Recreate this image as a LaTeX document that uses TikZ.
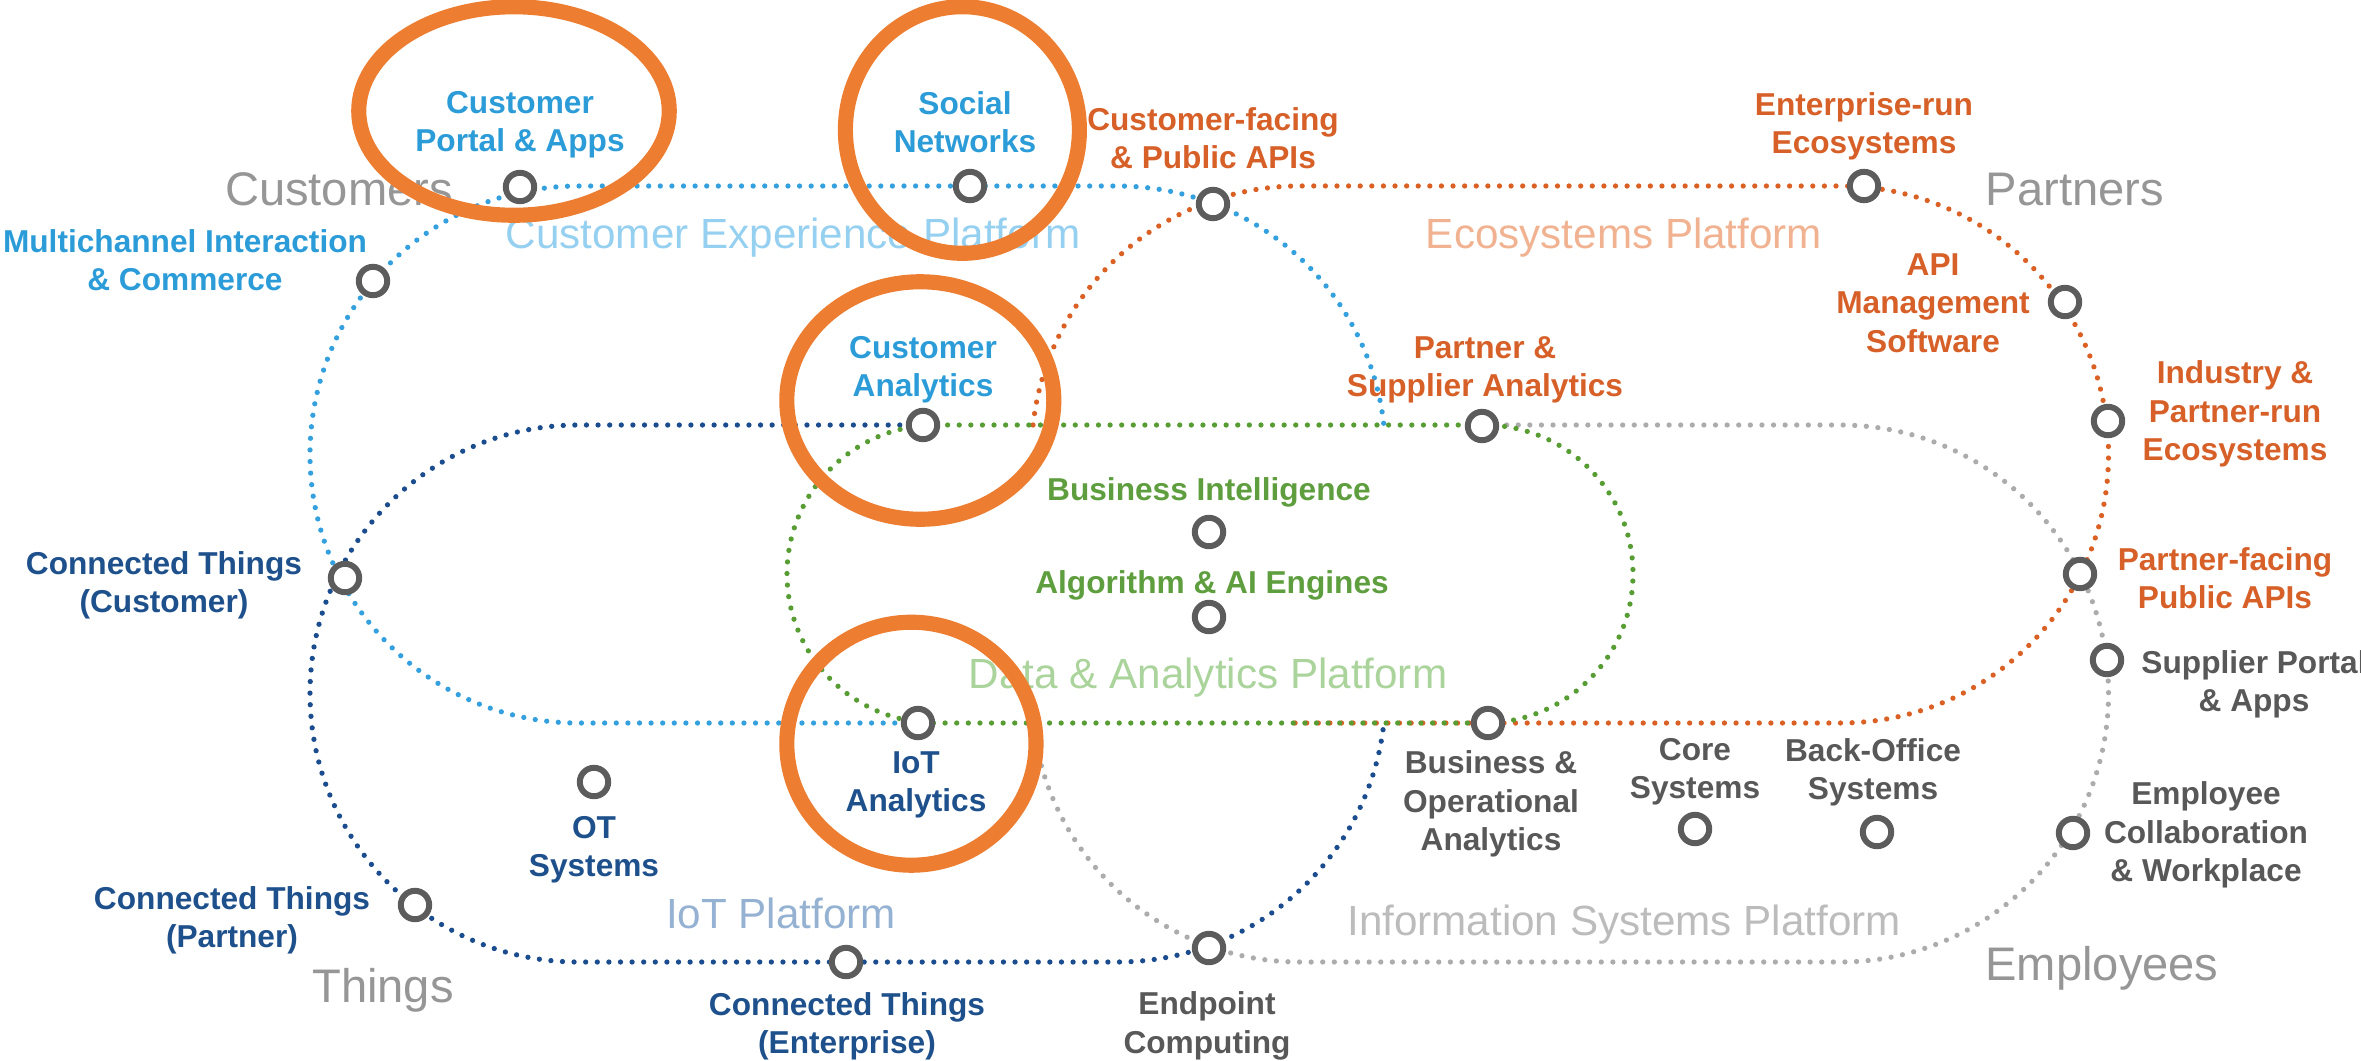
\documentclass[tikz,border=0pt]{standalone}
\usepackage{fontspec}
\setmainfont{Liberation Sans}

% platform colours: outline, item text, pale platform title
\definecolor{cxline}{RGB}{52,160,222}
\definecolor{cxtext}{RGB}{44,156,216}
\definecolor{cxpale}{RGB}{150,208,240}
\definecolor{ecoline}{RGB}{218,96,36}
\definecolor{ecotext}{RGB}{214,96,40}
\definecolor{ecopale}{RGB}{240,178,145}
\definecolor{dataline}{RGB}{88,156,52}
\definecolor{datatext}{RGB}{94,158,62}
\definecolor{datapale}{RGB}{170,212,155}
\definecolor{iotline}{RGB}{26,76,142}
\definecolor{iottext}{RGB}{30,80,140}
\definecolor{iotpale}{RGB}{150,178,210}
\definecolor{isline}{RGB}{172,172,172}
\definecolor{istext}{RGB}{88,88,88}
\definecolor{ispale}{RGB}{188,188,188}
\definecolor{zonegray}{RGB}{150,150,150}
\definecolor{hubgray}{RGB}{92,92,92}
\definecolor{focusorange}{RGB}{237,125,49}

\begin{document}
\begin{tikzpicture}[x=0.01cm,y=-0.01cm,
  dotline/.style={line width=1.5pt,line cap=round,dash pattern=on 0pt off 3.3pt},
  hub/.style={circle,draw=hubgray,fill=white,line width=1.7pt,minimum size=0.284cm,inner sep=0pt},
  lbl/.style={font=\fontsize{9}{10.9}\selectfont\bfseries,align=center,inner sep=0pt},
  plat/.style={font=\fontsize{12}{14}\selectfont,inner sep=0pt,anchor=base},
  zone/.style={font=\fontsize{13.4}{16}\selectfont,text=zonegray,inner sep=0pt,anchor=base},
  focus/.style={draw=focusorange,line width=4.3pt}]
\useasboundingbox (0,0) rectangle (2361,1060);

% ---------- stakeholder corners ----------
\node[zone] (customers) at (339,205) {Customers};
\node[zone] (partners) at (2075,205) {Partners};
\node[zone] (things) at (383,1002) {Things};
\node[zone] (employees) at (2102,980) {Employees};

% ---------- platform titles ----------
\node[plat,text=cxpale] (cxtitle) at (793,248) {Customer Experience Platform};
\node[plat,text=ecopale] (ecotitle) at (1624,248) {Ecosystems Platform};
\node[plat,text=datapale] (datatitle) at (1208,688) {Data \& Analytics Platform};
\node[plat,text=iotpale] (iottitle) at (781,928) {IoT Platform};
\node[plat,text=ispale] (istitle) at (1624,935) {Information Systems Platform};

% ---------- platform outlines (visible parts) ----------
% customer experience
\draw[dotline,cxline] (918,723) -- (578.5,723)
  arc[start angle=90,end angle=270,radius=268.5] -- (1117,186)
  arc[start angle=270,end angle=353.7,radius=268.5];
% IoT
\draw[dotline,iotline] (923,425) -- (578.5,425)
  arc[start angle=270,end angle=90,radius=268.5] -- (1117,962)
  arc[start angle=90,end angle=6.3,radius=268.5];
% ecosystems
\draw[dotline,ecoline] (1033,425)
  arc[start angle=186.3,end angle=270,radius=268.5] -- (1840,186)
  arc[start angle=-90,end angle=90,radius=268.5] -- (1285,723);
% information systems
\draw[dotline,isline] (1495,425) -- (1840,425)
  arc[start angle=-90,end angle=90,radius=268.5] -- (1300,962)
  arc[start angle=90,end angle=173.7,radius=268.5];
% data & analytics
\draw[dotline,dataline] (936,425) -- (1484,425)
  arc[start angle=-90,end angle=90,radius=149] -- (936,723)
  arc[start angle=90,end angle=270,radius=149];

% ---------- hubs ----------
\node[hub] (multi) at (373,281) {};
\node[hub] (cportal) at (520,187) {};
\node[hub] (social) at (970,186) {};
\node[hub] (cfacing) at (1213,204) {};
\node[hub] (entrun) at (1864,186) {};
\node[hub] (apimgmt) at (2065,302) {};
\node[hub] (industry) at (2108,421) {};
\node[hub] (pfacing) at (2080,574) {};
\node[hub] (supplier) at (2107,660) {};
\node[hub] (empcollab) at (2073,833) {};
\node[hub] (backoffice) at (1877,832) {};
\node[hub] (core) at (1695,829) {};
\node[hub] (bizop) at (1488,723) {};
\node[hub] (endpoint) at (1209,948) {};
\node[hub] (ctent) at (846,962) {};
\node[hub] (ctpartner) at (415,905) {};
\node[hub] (ot) at (594,782) {};
\node[hub] (ctcust) at (345,578) {};
\node[hub] (iota) at (918,723) {};
\node[hub] (custan) at (923,425) {};
\node[hub] (psa) at (1482,426) {};
\node[hub] (bi) at (1209,532) {};
\node[hub] (algo) at (1209,617) {};

% ---------- hub labels ----------
\node[lbl,text=cxtext] (multi-l) at (185,260) {Multichannel Interaction\\\& Commerce};
\node[lbl,text=cxtext] (cportal-l) at (520,125) {Customer\\Portal \& Apps};
\node[lbl,text=cxtext] (social-l) at (965,122) {Social\\Networks};
\node[lbl,text=cxtext] (custan-l) at (923,370) {Customer\\Analytics};
\node[lbl,text=ecotext] (cfacing-l) at (1213,138) {Customer-facing\\\& Public APIs};
\node[lbl,text=ecotext] (entrun-l) at (1864,126) {Enterprise-run\\Ecosystems};
\node[lbl,text=ecotext] (apimgmt-l) at (1933,303) {API\\Management\\Software};
\node[lbl,text=ecotext] (industry-l) at (2235,414) {Industry \&\\Partner-run\\Ecosystems};
\node[lbl,text=ecotext] (pfacing-l) at (2225,578) {Partner-facing\\Public APIs};
\node[lbl,text=ecotext] (psa-l) at (1485,370) {Partner \&\\Supplier Analytics};
\node[lbl,text=datatext,anchor=base] (bi-l) at (1209,500) {Business Intelligence};
\node[lbl,text=datatext,anchor=base] (algo-l) at (1212,593) {Algorithm \& AI Engines};
\node[lbl,text=iottext] (ctcust-l) at (164,585) {Connected Things\\(Customer)};
\node[lbl,text=iottext] (ctpartner-l) at (232,920) {Connected Things\\(Partner)};
\node[lbl,text=iottext] (ctent-l) at (847,1026) {Connected Things\\(Enterprise)};
\node[lbl,text=iottext] (ot-l) at (594,850) {OT\\Systems};
\node[lbl,text=iottext] (iota-l) at (916,785) {IoT\\Analytics};
\node[lbl,text=istext] (bizop-l) at (1491,804) {Business \&\\Operational\\Analytics};
\node[lbl,text=istext] (core-l) at (1695,772) {Core\\Systems};
\node[lbl,text=istext] (backoffice-l) at (1873,772) {Back-Office\\Systems};
\node[lbl,text=istext] (supplier-l) at (2254,684) {Supplier Portal\\\& Apps};
\node[lbl,text=istext] (empcollab-l) at (2206,835) {Employee\\Collaboration\\\& Workplace};
\node[lbl,text=istext] (endpoint-l) at (1207,1026) {Endpoint\\Computing};

% ---------- highlight rings ----------
\draw[focus] (514,111) ellipse [x radius=155.25,y radius=104.25];
\draw[focus] (962.4,130) ellipse [x radius=117,y radius=123.3];
\draw[focus] (920.3,400.5) ellipse [x radius=133.5,y radius=118.75];
\draw[focus] (911.4,743.7) ellipse [x radius=124.6,y radius=121.5];
\end{tikzpicture}
\end{document}
